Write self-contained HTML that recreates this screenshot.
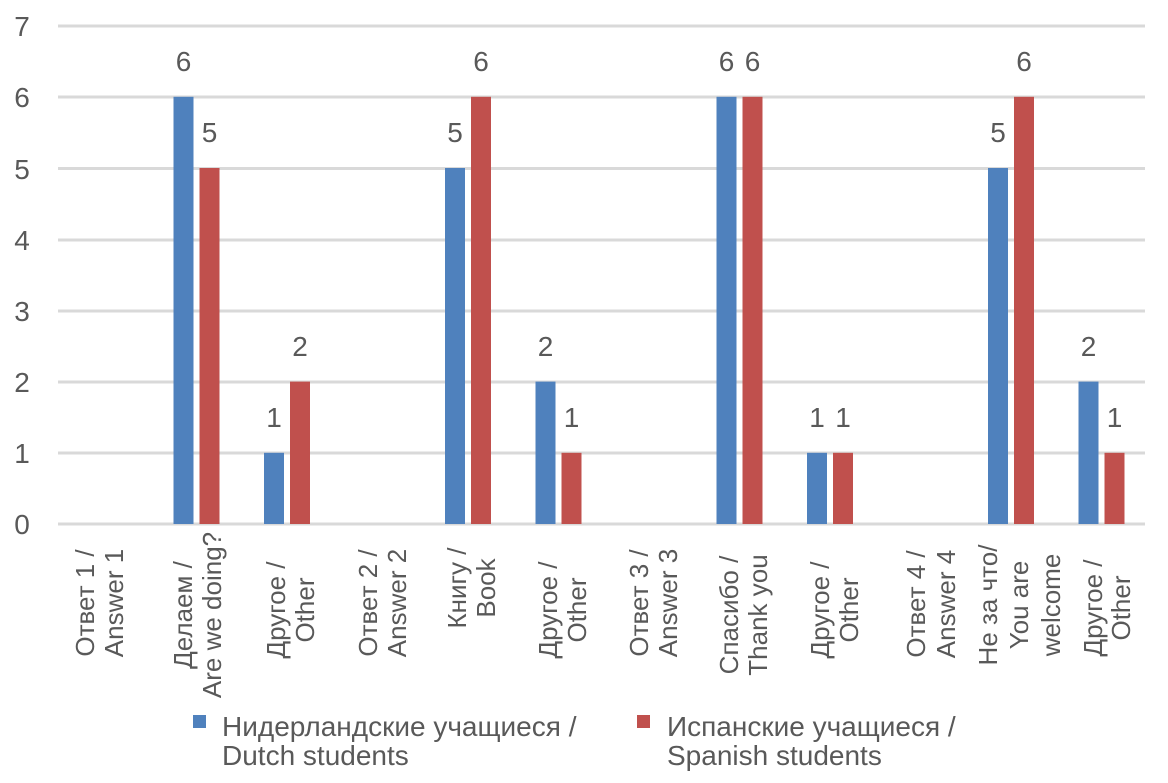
<!DOCTYPE html>
<html><head><meta charset="utf-8"><style>body{margin:0;background:#fff}</style></head><body>
<svg width="1168" height="778" xmlns="http://www.w3.org/2000/svg" font-family="Liberation Sans, sans-serif" fill="#595959">
<g stroke="#d9d9d9" stroke-width="3">
<line x1="58" x2="1145" y1="26" y2="26"/><line x1="58" x2="1145" y1="97" y2="97"/><line x1="58" x2="1145" y1="168.5" y2="168.5"/><line x1="58" x2="1145" y1="240" y2="240"/><line x1="58" x2="1145" y1="311" y2="311"/><line x1="58" x2="1145" y1="382" y2="382"/><line x1="58" x2="1145" y1="453" y2="453"/><line x1="58" x2="1145" y1="524" y2="524"/>
</g>
<g font-size="28" text-anchor="middle">
<text x="22" y="36">7</text><text x="22" y="107">6</text><text x="22" y="179">5</text><text x="22" y="250">4</text><text x="22" y="321">3</text><text x="22" y="392">2</text><text x="22" y="463">1</text><text x="22" y="534">0</text>
</g>
<g fill="#4f81bd">
<rect x="173.5" y="96.8" width="20" height="427.2"/>
<rect x="264" y="452.8" width="20" height="71.2"/>
<rect x="445" y="168" width="20" height="356"/>
<rect x="535.5" y="381.6" width="20" height="142.4"/>
<rect x="716.5" y="96.8" width="20" height="427.2"/>
<rect x="807" y="452.8" width="20" height="71.2"/>
<rect x="988" y="168" width="20" height="356"/>
<rect x="1078.5" y="381.6" width="20" height="142.4"/>
</g>
<g fill="#c0504d">
<rect x="199.5" y="168" width="20" height="356"/>
<rect x="290" y="381.6" width="20" height="142.4"/>
<rect x="471" y="96.8" width="20" height="427.2"/>
<rect x="561.5" y="452.8" width="20" height="71.2"/>
<rect x="742.5" y="96.8" width="20" height="427.2"/>
<rect x="833" y="452.8" width="20" height="71.2"/>
<rect x="1014" y="96.8" width="20" height="427.2"/>
<rect x="1104.5" y="452.8" width="20" height="71.2"/>
</g>
<g font-size="28" text-anchor="middle">
<text x="183.5" y="71">6</text><text x="209.5" y="142">5</text>
<text x="274" y="427">1</text><text x="300" y="356">2</text>
<text x="455" y="142">5</text><text x="481" y="71">6</text>
<text x="545.5" y="356">2</text><text x="571.5" y="427">1</text>
<text x="726.5" y="71">6</text><text x="752.5" y="71">6</text>
<text x="817" y="427">1</text><text x="843" y="427">1</text>
<text x="998" y="142">5</text><text x="1024" y="71">6</text>
<text x="1088.5" y="356">2</text><text x="1114.5" y="427">1</text>
</g>
<g font-size="26" text-anchor="middle">
<text transform="translate(94,603) rotate(-90)">Ответ 1 /</text><text transform="translate(123,603) rotate(-90)">Answer 1</text>
<text transform="translate(192,615) rotate(-90)">Делаем /</text><text transform="translate(221,615) rotate(-90)">Are we doing?</text>
<text transform="translate(285,610) rotate(-90)">Другое /</text><text transform="translate(314,610) rotate(-90)">Other</text>
<text transform="translate(377,603) rotate(-90)">Ответ 2 /</text><text transform="translate(406,603) rotate(-90)">Answer 2</text>
<text transform="translate(466,588) rotate(-90)">Книгу /</text><text transform="translate(495,588) rotate(-90)">Book</text>
<text transform="translate(557,610) rotate(-90)">Другое /</text><text transform="translate(586,610) rotate(-90)">Other</text>
<text transform="translate(648,603) rotate(-90)">Ответ 3 /</text><text transform="translate(677,603) rotate(-90)">Answer 3</text>
<text transform="translate(738,615) rotate(-90)">Спасибо /</text><text transform="translate(767,615) rotate(-90)">Thank you</text>
<text transform="translate(829,610) rotate(-90)">Другое /</text><text transform="translate(858,610) rotate(-90)">Other</text>
<text transform="translate(925,604) rotate(-90)">Ответ 4 /</text><text transform="translate(955,604) rotate(-90)">Answer 4</text>
<text transform="translate(997,605) rotate(-90)">Не за что/</text><text transform="translate(1028,605) rotate(-90)">You are</text><text transform="translate(1060,605) rotate(-90)">welcome</text>
<text transform="translate(1102,608) rotate(-90)">Другое /</text><text transform="translate(1130,608) rotate(-90)">Other</text>
</g>
<rect x="193" y="715" width="13" height="13" fill="#4f81bd"/>
<rect x="637" y="715" width="13" height="13" fill="#c0504d"/>
<g font-size="28">
<text x="222" y="736">Нидерландские учащиеся /</text><text x="222" y="765">Dutch students</text>
<text x="667" y="736">Испанские учащиеся /</text><text x="667" y="765">Spanish students</text>
</g>
</svg>
</body></html>
